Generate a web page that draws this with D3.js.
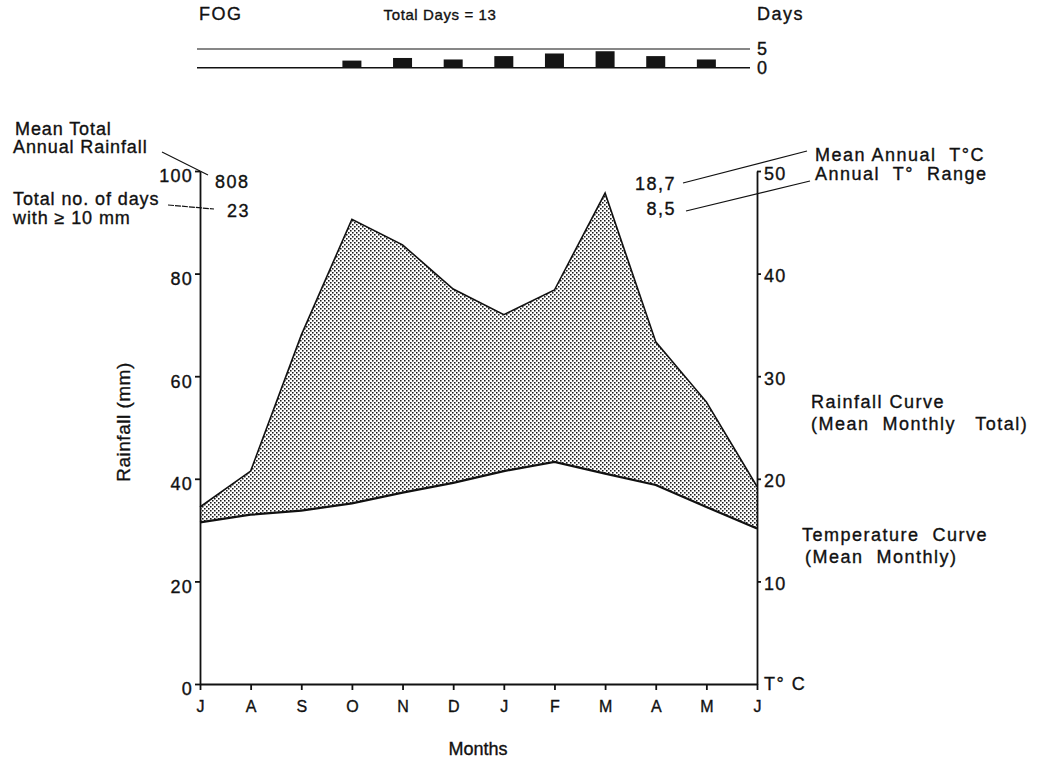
<!DOCTYPE html>
<html lang="en">
<head>
<meta charset="UTF-8">
<script src="https://d3js.org/d3.v7.min.js"></script>
<title>Climate diagram</title>
<style>
  body { margin: 0; background: #fff; }
  svg text { font-family: "Liberation Sans", Arial, sans-serif; fill: #111; stroke: #111; stroke-width: 0.35px; }
  .lbl { font-size: 18px; letter-spacing: 1.5px; }
  .lbl.tight { letter-spacing: 0.9px; }
  .tick text { font-size: 18px; letter-spacing: 1.2px; }
</style>
</head>
<body>
<svg width="1047" height="767"></svg>
<script>
// month labels, July to June
const months = ["J", "A", "S", "O", "N", "D", "J", "F", "M", "A", "M", "J"];
// mean monthly rainfall (mm)
const rainfall = [34.5, 41.5, 68, 90.6, 85.6, 77, 72, 76.8, 95.7, 66.7, 55, 38.5];
// mean monthly temperature (deg C)
const temperature = [15.75, 16.5, 16.9, 17.6, 18.65, 19.6, 20.75, 21.65, 20.5, 19.4, 17.25, 15.15];
// fog days per month
const fogDays = [0, 0, 0, 1.9, 2.6, 2.2, 3.1, 3.8, 4.4, 3.1, 2.2, 0];

const rainTicks = [0, 20, 40, 60, 80, 100];
const tempTicks = [10, 20, 30, 40, 50];

const svg = d3.select("svg");

var x = d3.scalePoint().domain(d3.range(months.length)).range([200, 757]);
var yRain = d3.scaleLinear().domain([0, 100]).range([684, 171]);
var yTemp = d3.scaleLinear().domain([0, 50]).range([684, 171]);
var yFog = d3.scaleLinear().domain([0, 5]).range([67.7, 49]);

// stipple pattern for the area between the curves
var pat = svg.append("defs").append("pattern")
  .attr("id", "stipple")
  .attr("patternUnits", "userSpaceOnUse")
  .attr("width", 4).attr("height", 4);
pat.append("rect").attr("width", 4).attr("height", 4).attr("fill", "#fff");
pat.append("rect").attr("x", 0).attr("y", 0).attr("width", 1.55).attr("height", 1.55).attr("fill", "#1a1a1a");
pat.append("rect").attr("x", 2).attr("y", 2).attr("width", 1.55).attr("height", 1.55).attr("fill", "#1a1a1a");

// ---- fog strip ----
svg.append("text").attr("class", "lbl").attr("x", 199).attr("y", 20).text("FOG");
svg.append("text").attr("x", 440).attr("y", 20).attr("text-anchor", "middle")
  .style("font-size", "15px").style("letter-spacing", "0.6px").text("Total Days = 13");
svg.append("text").attr("class", "lbl").attr("x", 757).attr("y", 20).text("Days");

[0, 5].forEach(function(v) {
  svg.append("line")
    .attr("x1", 197).attr("x2", 750)
    .attr("y1", yFog(v)).attr("y2", yFog(v))
    .attr("stroke", "#111").attr("stroke-width", v == 0 ? 1.6 : 1.2);
  svg.append("text").attr("class", "lbl")
    .attr("x", 757).attr("y", yFog(v) + 6)
    .text(v);
});

svg.append("g").selectAll("rect")
  .data(fogDays.map(function(d, i) { return {v: d, i: i}; }).filter(function(d) { return d.v > 0; }))
  .enter().append("rect")
  .attr("x", function(d) { return x(d.i) - 9.5; })
  .attr("width", 19)
  .attr("y", function(d) { return yFog(d.v); })
  .attr("height", function(d) { return yFog(0) - yFog(d.v); })
  .attr("fill", "#151515");

// ---- main chart ----
var area = d3.area()
  .x(function(d, i) { return x(i); })
  .y0(function(d, i) { return yTemp(temperature[i]); })
  .y1(function(d, i) { return yRain(rainfall[i]); });

svg.append("path")
  .datum(rainfall)
  .attr("d", area)
  .attr("fill", "url(#stipple)");

svg.append("path")
  .datum(rainfall)
  .attr("d", d3.line().x(function(d, i) { return x(i); }).y(function(d) { return yRain(d); }))
  .attr("fill", "none").attr("stroke", "#111").attr("stroke-width", 1.6);

svg.append("path")
  .datum(temperature)
  .attr("d", d3.line().x(function(d, i) { return x(i); }).y(function(d) { return yTemp(d); }))
  .attr("fill", "none").attr("stroke", "#111").attr("stroke-width", 2.2);

// left axis
var gl = svg.append("g")
  .attr("transform", "translate(" + 200 + ",0)")
  .call(d3.axisLeft(yRain).tickValues(rainTicks).tickSize(5).tickSizeOuter(0).tickPadding(2));

// right axis
var gr = svg.append("g")
  .attr("transform", "translate(" + 757 + ",0)")
  .call(d3.axisRight(yTemp).tickValues(tempTicks).tickSize(4).tickSizeOuter(0).tickPadding(3));

// bottom axis
var gb = svg.append("g")
  .attr("transform", "translate(0," + 684 + ")")
  .call(d3.axisBottom(x).tickFormat(function(i) { return months[i]; }).tickSize(6).tickSizeOuter(0).tickPadding(11));
gb.selectAll("text").style("font-size", "16px").style("letter-spacing", "0px");

[gl, gr, gb].forEach(function(g) {
  g.selectAll("path, line").attr("stroke", "#111").attr("stroke-width", 1.8);
  g.selectAll("text").attr("fill", "#111");
});
gl.selectAll(".tick text").attr("dy", "0.6em");
gr.selectAll(".tick text").attr("dy", "0.45em");

svg.append("text").attr("class", "lbl").attr("x", 764).attr("y", 690).text("T\u00B0 C");

svg.append("text")
  .attr("transform", "translate(" + 130 + "," + 422 + ") rotate(-90)")
  .attr("text-anchor", "middle")
  .style("font-size", "19px").style("letter-spacing", "0.5px")
  .text("Rainfall (mm)");

svg.append("text").attr("x", 478).attr("y", 755).attr("text-anchor", "middle")
  .style("font-size", "18px").text("Months");

// ---- annotations ----
function note(txt, xx, yy, anchor, cls) {
  svg.append("text").attr("class", "lbl " + (cls || "")).attr("x", xx).attr("y", yy)
    .attr("text-anchor", anchor || "start").text(txt);
}
function leader(x1, y1, x2, y2, dash) {
  svg.append("line").attr("x1", x1).attr("y1", y1).attr("x2", x2).attr("y2", y2)
    .attr("stroke", "#111").attr("stroke-width", 1.2)
    .attr("stroke-dasharray", dash || null);
}

note("Mean Total", 15, 135, "start", "tight");
note("Annual Rainfall", 13, 153, "start", "tight");
leader(162, 152, 208, 175);
note("808", 215, 188);

note("Total no. of days", 13, 205, "start", "tight");
note("with \u2265 10 mm", 13, 224, "start", "tight");
leader(168, 205, 214, 209, "6,1");
note("23", 227, 217);

note("Mean Annual  T\u00B0C", 815, 161);
note("Annual  T\u00B0  Range", 815, 180);
leader(683, 183, 807, 151);
leader(686, 211, 810, 181);
note("18,7", 676, 190, "end");
note("8,5", 676, 215, "end");

note("Rainfall Curve", 811, 408);
note("(Mean  Monthly   Total)", 811, 430);
note("Temperature  Curve", 802, 541);
note("(Mean  Monthly)", 805, 563);

svg.selectAll("text").style("white-space", "pre");
</script>
</body>
</html>
